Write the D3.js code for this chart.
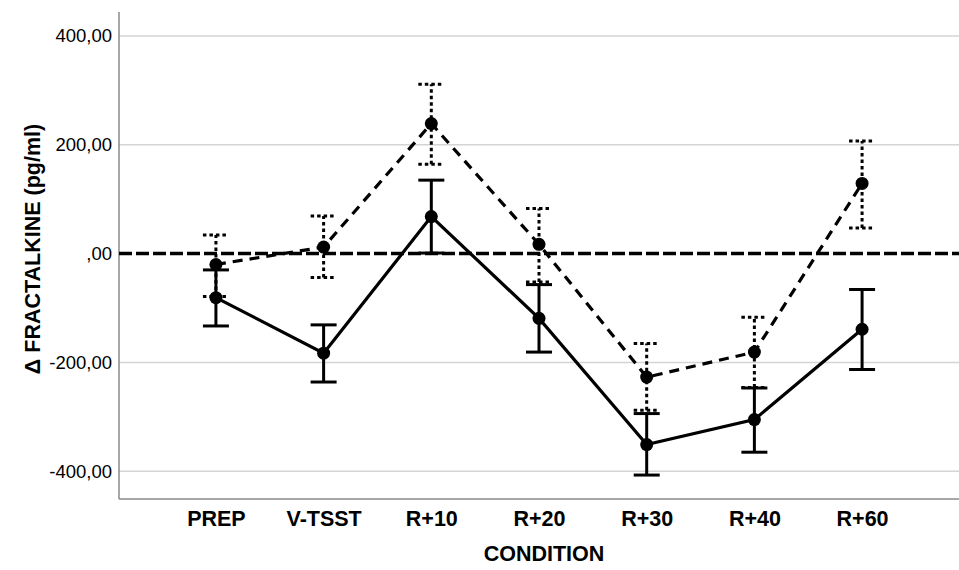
<!DOCTYPE html>
<html>
<head>
<meta charset="utf-8">
<script src="https://cdn.jsdelivr.net/npm/d3@7"></script>
<style>
  body { margin: 0; background: #fff; }
  text { font-family: Arial, "Liberation Sans", sans-serif; }
</style>
</head>
<body>
<div id="fig"></div>
<script>
const fig_width = 959
const fig_height = 570

// conditions on the x axis
const conditions = ['PREP', 'V-TSST', 'R+10', 'R+20', 'R+30', 'R+40', 'R+60']

// solid series: mean and error bar ends
const solid_mean = [-81, -183, 68, -119, -351, -305, -139]
const solid_low = [-133, -236, 1, -181, -407, -365, -213]
const solid_high = [-30, -131, 135, -57, -294, -247, -66]

// dashed series: mean and error bar ends
const dashed_mean = [-20, 12, 239, 17, -227, -181, 129]
const dashed_low = [-79, -44, 164, -52, -288, -246, 47]
const dashed_high = [34, 69, 311, 83, -165, -117, 207]

const y_ticks = [-400, -200, 0, 200, 400]
const y_tick_labels = ['-400,00', '-200,00', ',00', '200,00', '400,00']

const plot = {left: 119, right: 959, top: 12, bottom: 499}

let x = d3.scalePoint()
    .domain(conditions)
    .range([plot.left, plot.right])
    .padding(0.9)

let y = d3.scaleLinear()
    .domain([-451, 444])
    .range([plot.bottom, plot.top])

let fig = d3.select('#fig')
    .append('svg')
    .attr('width', fig_width)
    .attr('height', fig_height)

// gridlines
fig.append('g')
    .selectAll('line')
    .data(y_ticks.filter(t => t !== 0))
    .join('line')
    .attr('x1', plot.left)
    .attr('x2', plot.right)
    .attr('y1', d => y(d))
    .attr('y2', d => y(d))
    .style('stroke', '#d4d4d4')
    .style('stroke-width', 1.5)

// y axis
let yAxis = fig.append('g')
    .attr('transform', `translate(${plot.left},0)`)
    .call(d3.axisLeft(y).tickValues(y_ticks).tickSize(0).tickPadding(7)
        .tickFormat((d, i) => y_tick_labels[i]))
yAxis.select('.domain').remove()
yAxis.selectAll('text')
    .style('font-size', '18.5px')
    .style('fill', '#000')

// x axis
let xAxis = fig.append('g')
    .attr('transform', `translate(0,${plot.bottom})`)
    .call(d3.axisBottom(x).tickSize(0).tickPadding(12))
xAxis.select('.domain').remove()
xAxis.selectAll('text')
    .style('font-size', '21.5px')
    .style('font-weight', 'bold')
    .style('fill', '#000')

// axis frame lines
fig.append('line')
    .attr('x1', plot.left).attr('x2', plot.left)
    .attr('y1', plot.top).attr('y2', plot.bottom)
    .style('stroke', '#8a8a8a').style('stroke-width', 1.5)
fig.append('line')
    .attr('x1', plot.left).attr('x2', plot.right)
    .attr('y1', plot.bottom).attr('y2', plot.bottom)
    .style('stroke', '#8a8a8a').style('stroke-width', 1.5)

// reference line at zero
fig.append('line')
    .attr('x1', plot.left)
    .attr('x2', plot.right)
    .attr('y1', y(0))
    .attr('y2', y(0))
    .style('stroke', '#000')
    .style('stroke-width', 3.5)
    .style('stroke-dasharray', '13,4')

// axis titles
fig.append('text')
    .attr('x', 544)
    .attr('y', 561)
    .attr('text-anchor', 'middle')
    .style('font-size', '21.5px')
    .style('font-weight', 'bold')
    .text('CONDITION')

fig.append('text')
    .attr('transform', 'translate(40,249) rotate(-90)')
    .attr('text-anchor', 'middle')
    .style('font-size', '21.5px')
    .style('font-weight', 'bold')
    .text('\u0394 FRACTALKINE (pg/ml)')

function drawSeries(mean, low, high, lineDash, barDash) {
    let pts = conditions.map((c, i) => ({c: c, m: mean[i], lo: low[i], hi: high[i]}))
    let g = fig.append('g')
    let cap = 13

    // error bars
    g.selectAll('line.bar')
        .data(pts)
        .join('line')
        .attr('class', 'bar')
        .attr('x1', d => x(d.c)).attr('x2', d => x(d.c))
        .attr('y1', d => y(d.lo)).attr('y2', d => y(d.hi))
        .style('stroke', '#000').style('stroke-width', 3)
        .style('stroke-dasharray', barDash)
    g.selectAll('line.caplo')
        .data(pts)
        .join('line')
        .attr('class', 'caplo')
        .attr('x1', d => x(d.c) - cap).attr('x2', d => x(d.c) + cap)
        .attr('y1', d => y(d.lo)).attr('y2', d => y(d.lo))
        .style('stroke', '#000').style('stroke-width', 3)
        .style('stroke-dasharray', barDash)
    g.selectAll('line.caphi')
        .data(pts)
        .join('line')
        .attr('class', 'caphi')
        .attr('x1', d => x(d.c) - cap).attr('x2', d => x(d.c) + cap)
        .attr('y1', d => y(d.hi)).attr('y2', d => y(d.hi))
        .style('stroke', '#000').style('stroke-width', 3)
        .style('stroke-dasharray', barDash)

    // connecting line
    g.append('path')
        .datum(pts)
        .attr('d', d3.line().x(d => x(d.c)).y(d => y(d.m)))
        .style('fill', 'none')
        .style('stroke', '#000')
        .style('stroke-width', 3.2)
        .style('stroke-dasharray', lineDash)

    // markers
    g.selectAll('circle')
        .data(pts)
        .join('circle')
        .attr('cx', d => x(d.c))
        .attr('cy', d => y(d.m))
        .attr('r', 6.5)
        .style('fill', '#000')
}

drawSeries(solid_mean, solid_low, solid_high, null, null)
drawSeries(dashed_mean, dashed_low, dashed_high, '10,7', '3.5,3')
</script>
</body>
</html>
